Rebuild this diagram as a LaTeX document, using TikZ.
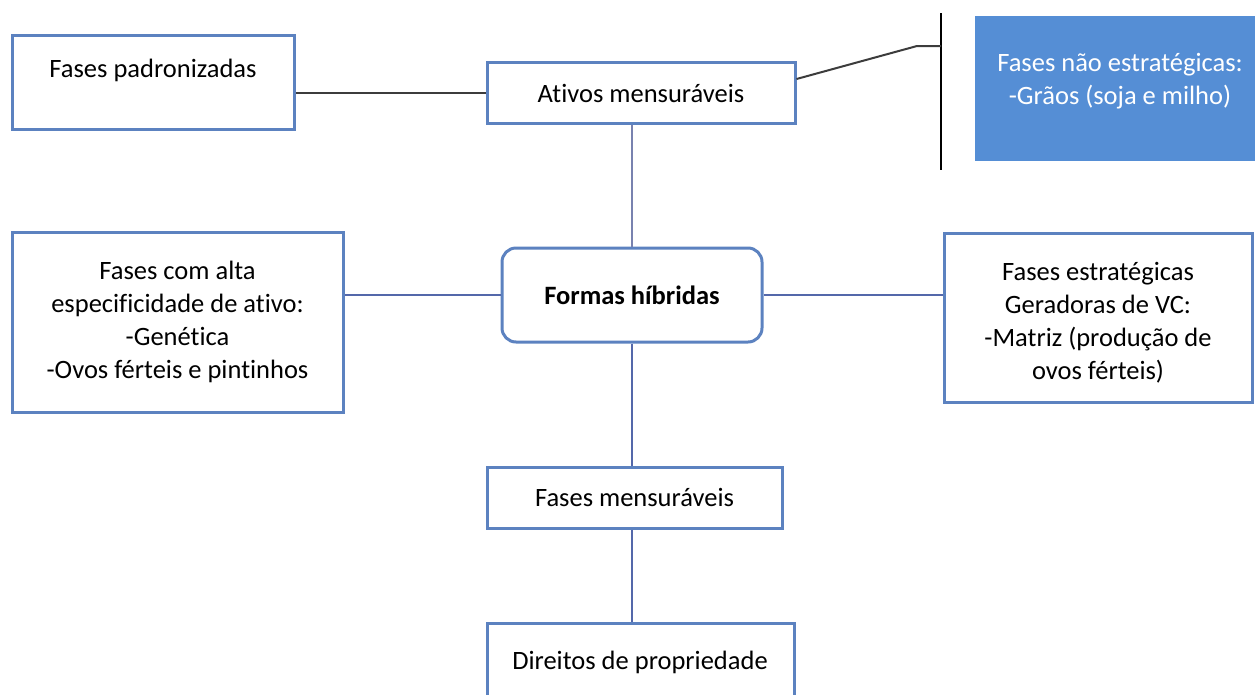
\documentclass[tikz,border=0pt]{standalone}
\usepackage{fontspec}
\setmainfont{Carlito}[Ligatures={NoCommon}]
\usetikzlibrary{calc}
\definecolor{boxline}{RGB}{92,130,192}
\definecolor{linkblue}{RGB}{84,104,170}
\definecolor{linkgray}{RGB}{60,60,60}
\definecolor{vlink}{RGB}{120,130,175}
\definecolor{fillblue}{RGB}{85,142,213}
\begin{document}
\begin{tikzpicture}[x=1pt,y=-1pt,
  frame/.style={draw=boxline,line width=3pt,fill=white,inner sep=0pt,
    minimum width=#1},
  txt/.style={font=\fontsize{26.5}{33}\selectfont,align=center,inner sep=0pt},
  link/.style={draw=linkblue,line width=2pt},
  darklink/.style={draw=linkgray,line width=2pt}]
\useasboundingbox (0,0) rectangle (1255,694);

% boxes
\node[frame=282pt,minimum height=94pt] (pad) at (153,82) {};
\node[txt] (padtxt) at (153,70) {Fases padronizadas};

\node[frame=308pt,minimum height=61pt] (ativos) at (641,92.5) {};
\node[txt] (ativostxt) at (641,93) {Ativos mensuráveis};

\node[fill=fillblue,inner sep=0pt,minimum width=300pt,minimum height=145pt] (naoestr) at (1125,88.5) {};
\node[txt,text=white] (naoestrtxt) at (1120,81) {Fases não estratégicas:\\-Grãos (soja e milho)};

\node[frame=260pt,minimum height=94pt,rounded corners=14pt] (formas) at (632,295) {};
\node[txt,font=\fontsize{26.5}{33}\selectfont\bfseries] (formastxt) at (632,295) {Formas híbridas};

\node[frame=331pt,minimum height=180pt] (alta) at (177.5,322) {};
\node[txt] (altatxt) at (177.5,322) {Fases com alta\\especificidade de ativo:\\-Genética\\-Ovos férteis e pintinhos};

\node[frame=308pt,minimum height=169pt] (estr) at (1098,317.5) {};
\node[txt] (estrtxt) at (1098,323) {Fases estratégicas\\Geradoras de VC:\\-Matriz (produção de\\ovos férteis)};

\node[frame=295pt,minimum height=61pt] (fm) at (634.5,497.5) {};
\node[txt] (fmtxt) at (634.5,497) {Fases mensuráveis};

\node[frame=307pt,minimum height=97pt] (dir) at (640.5,671.5) {};
\node[txt] (dirtxt) at (640,662) {Direitos de propriedade};

% vertical bar and its kinked connector
\coordinate (bartop) at (941,13);
\coordinate (barbot) at (941,170);
\coordinate (kink) at (917,46);
\draw[black,line width=2pt] (bartop) -- (barbot);
\draw[darklink] ([yshift=13.5pt]ativos.east) -- (kink) -- (kink -| bartop);

% connectors
\draw[darklink] (ativos.west) -- (ativos.west -| pad.east);
\draw[draw=vlink,line width=2pt] (formas.north) -- (formas.north |- ativos.south);
\draw[link] (formas.west) -- (formas.west -| alta.east);
\draw[link] (formas.east) -- (formas.east -| estr.west);
\draw[link] (formas.south) -- (formas.south |- fm.north);
\draw[link] (fm.south -| formas.south) -- (formas.south |- dir.north);
\end{tikzpicture}
\end{document}
